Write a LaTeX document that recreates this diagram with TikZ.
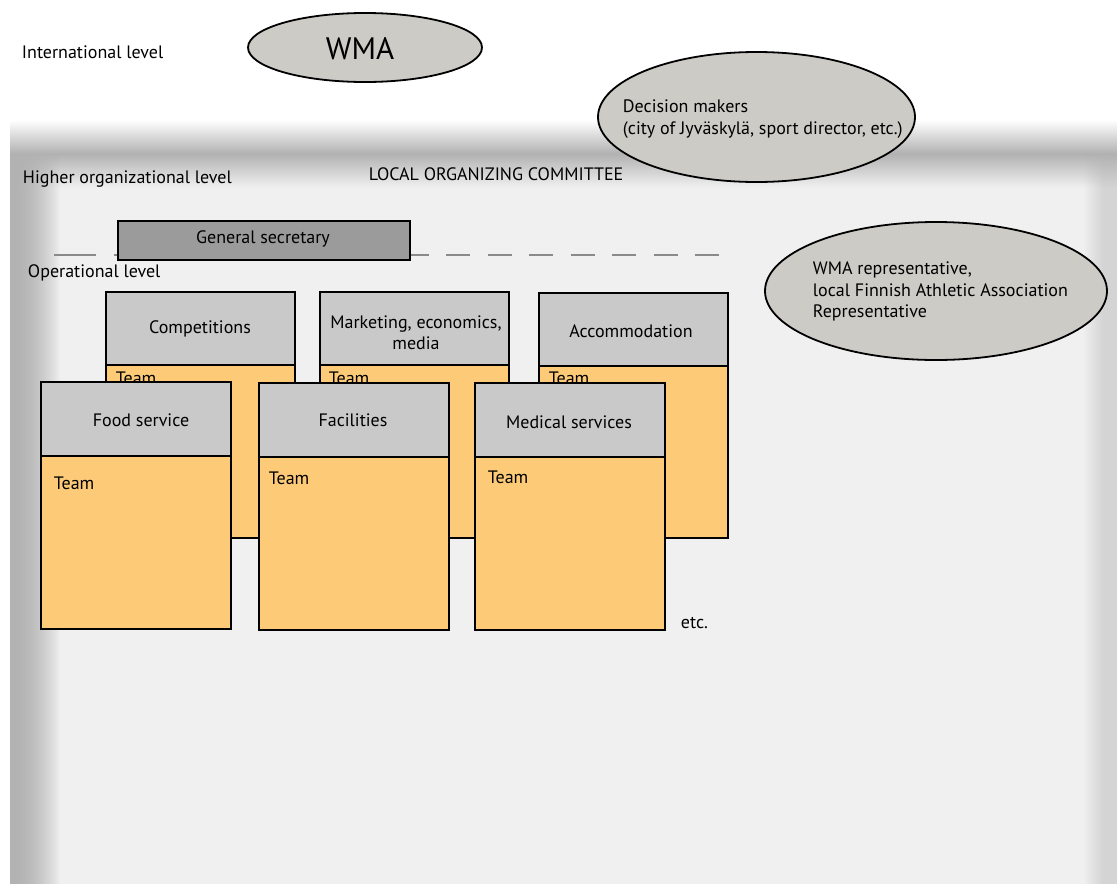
\documentclass[tikz,border=0pt]{standalone}
\usepackage{fontspec}
\setmainfont{PT Sans}
\usepackage{tikz}

\definecolor{panelgray}{RGB}{240,240,240}
\definecolor{shadowgray}{RGB}{178,178,178}
\definecolor{bubblegray}{RGB}{205,203,198}
\definecolor{headgray}{RGB}{201,201,201}
\definecolor{secgray}{RGB}{155,155,155}
\definecolor{teamorange}{RGB}{253,203,120}
\definecolor{linegray}{RGB}{138,138,138}

\begin{document}
\begin{tikzpicture}[x=1pt,y=1pt,yscale=-1,xscale=1,
  every node/.style={inner sep=0.75pt, font=\fontsize{18}{21.5}\selectfont},
  bubble/.style={draw=black, line width=1.8pt, fill=bubblegray},
  secbox/.style={draw=black, line width=2.2pt, fill=secgray},
  headbox/.style={draw=black, line width=2.2pt, fill=headgray},
  teambox/.style={draw=black, line width=2.2pt, fill=teamorange},
  levelline/.style={draw=linegray, line width=1.8pt}]
\useasboundingbox (0,0) rectangle (1117,884);

%Shape: Panel with blurred shadow
\fill[panelgray] (10,188) rectangle (1117,884);
\foreach \i [evaluate=\i as \pc using int(3*\i)] in {0,...,33}
  \fill[shadowgray!\pc!white] (10,120+\i) rectangle (1117,121+\i);
\foreach \i [evaluate=\i as \pc using int(100-3*\i)] in {0,...,33}
  \fill[shadowgray!\pc!panelgray] (10,154+\i) rectangle (1117,155+\i);
\foreach \i [evaluate=\i as \opa using {1-(\i/50)^2}] in {0,...,49}
  \fill[shadowgray, fill opacity=\opa] (10+\i,154) rectangle (11+\i,884);
\foreach \i [evaluate=\i as \opa using {0.45*min(1,\i/20)}] in {0,...,33}
  \fill[shadowgray, fill opacity=\opa] (1083+\i,154) rectangle (1084+\i,884);

% Text Node
\draw (21,52) node [anchor=west] (intl) {International level};
% Text Node
\draw (22,179) node [anchor=west] (higher) {Higher organizational level};
% Text Node
\draw (368,174) node [anchor=west] (loc) {LOCAL ORGANIZING COMMITTEE};
% Text Node
\draw (27,273) node [anchor=west] (oper) {Operational level};

%Shape: Ellipse
\draw[bubble] (365,47.5) ellipse (117 and 34.5);
\draw (360,49) node (wma) {\fontsize{31}{36}\selectfont WMA};
%Shape: Ellipse
\draw[bubble] (756.5,117) ellipse (158.5 and 65);
\draw (622,119) node [anchor=west, align=left] (decis) {Decision makers\\(city of Jyväskylä, sport director, etc.)};
%Shape: Ellipse
\draw[bubble] (936,291) ellipse (171 and 69);
\draw (812,291.5) node [anchor=west, align=left] (wmarep) {WMA representative,\\local Finnish Athletic Association\\Representative};

%Straight Lines
\coordinate (lvlA) at (54,255);
\coordinate (lvlB) at (96,255);
\coordinate (lvlC) at (114,255);
\coordinate (lvlD) at (725,255);
\draw[levelline] (lvlA) -- (lvlB);
\draw[levelline, dash pattern=on 24pt off 17.5pt] (lvlC) -- (lvlD);

%Shape: Rectangle
\draw[secbox] (118,221) rectangle (410,260);
\draw (263,239) node (gensec) {General secretary};

%Shape: Rectangle (back row)
\draw[teambox] (106,365) rectangle (295,538);
\draw[headbox] (106,292) rectangle (295,365);
\draw (200,329) node (comp) {Competitions};
\draw (115,378) node [anchor=west] (compteam) {Team};
%Shape: Rectangle
\draw[teambox] (320,365) rectangle (509,538);
\draw[headbox] (320,292) rectangle (509,365);
\draw (416,332.5) node [align=center] (mark) {Marketing, economics,\\media};
\draw (328,378) node [anchor=west] (markteam) {Team};
%Shape: Rectangle
\draw[teambox] (539,366) rectangle (728,538);
\draw[headbox] (539,293) rectangle (728,366);
\draw (631,331) node (acco) {Accommodation};
\draw (548,378) node [anchor=west] (accoteam) {Team};

%Shape: Rectangle (front row)
\draw[teambox] (41,456) rectangle (231,629);
\draw[headbox] (41,382) rectangle (231,456);
\draw (141,420) node (food) {Food service};
\draw (53,483) node [anchor=west] (foodteam) {Team};
%Shape: Rectangle
\draw[teambox] (259,457) rectangle (449,630);
\draw[headbox] (259,383) rectangle (449,457);
\draw (353,420) node (faci) {Facilities};
\draw (268,478) node [anchor=west] (faciteam) {Team};
%Shape: Rectangle
\draw[teambox] (475,457) rectangle (665,630);
\draw[headbox] (475,383) rectangle (665,457);
\draw (569,422) node (medi) {Medical services};
\draw (487,477) node [anchor=west] (mediteam) {Team};

% Text Node
\draw (680,623) node [anchor=west] (etc) {etc.};

\end{tikzpicture}
\end{document}
